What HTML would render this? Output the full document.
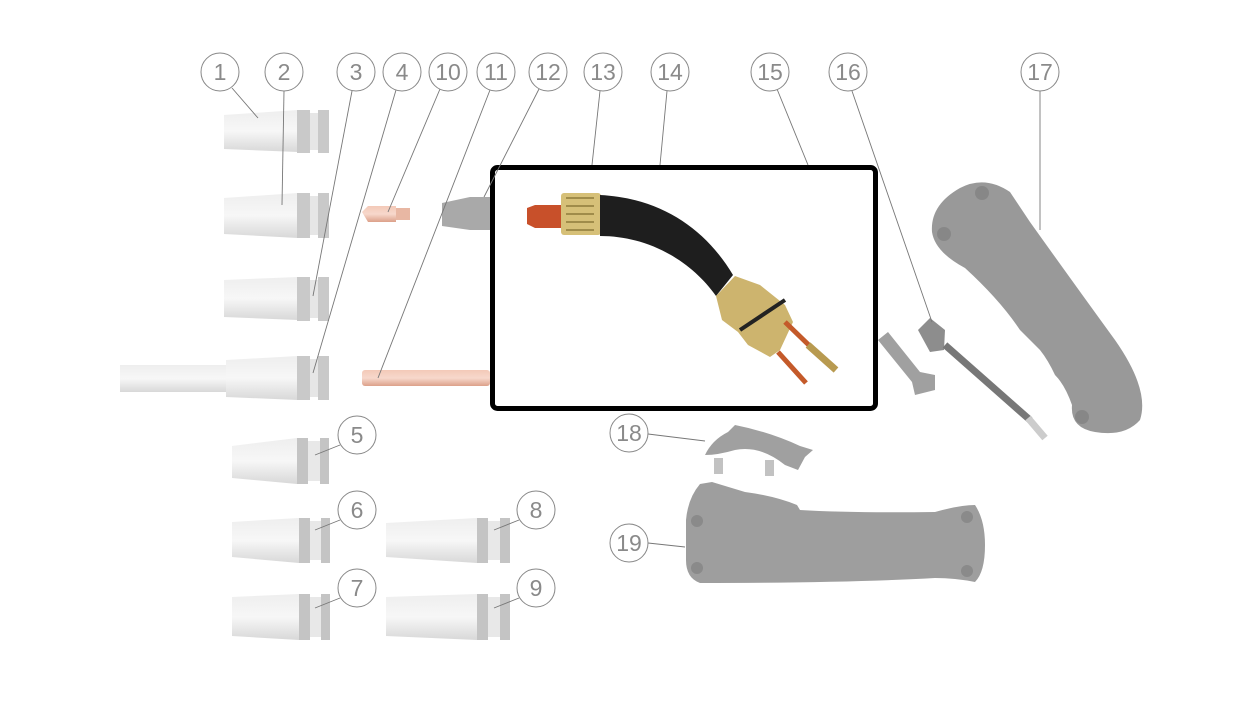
<!DOCTYPE html>
<html><head><meta charset="utf-8"><style>
html,body{margin:0;padding:0;background:#fff;}
svg{display:block;}
text{font-family:"Liberation Sans",sans-serif;font-size:23px;fill:#8a8a8a;text-anchor:middle;}
</style></head><body>
<svg width="1233" height="710" viewBox="0 0 1233 710" xmlns="http://www.w3.org/2000/svg">
<defs>
<linearGradient id="noz" x1="0" y1="0" x2="0" y2="1">
<stop offset="0" stop-color="#eeeeee"/><stop offset="0.5" stop-color="#f7f7f7"/><stop offset="1" stop-color="#d8d8d8"/></linearGradient>
<linearGradient id="cop" x1="0" y1="0" x2="0" y2="1">
<stop offset="0" stop-color="#f3c9b8"/><stop offset="0.5" stop-color="#f7d8cc"/><stop offset="1" stop-color="#dca08a"/></linearGradient>
</defs>
<g id="nozzles">
<path d="M224 115 L298 110 L298 152 L224 149 Z" fill="url(#noz)"/>
<rect x="297" y="110" width="13" height="43" fill="#c9c9c9"/><rect x="310" y="113" width="8" height="37" fill="#e6e6e6"/><rect x="318" y="110" width="11" height="43" fill="#c9c9c9"/>
<path d="M224 198 L298 193 L298 238 L224 234 Z" fill="url(#noz)"/>
<rect x="297" y="193" width="13" height="45" fill="#c9c9c9"/><rect x="310" y="196" width="8" height="39" fill="#e6e6e6"/><rect x="318" y="193" width="11" height="45" fill="#c9c9c9"/>
<path d="M224 280 L298 277 L298 320 L224 317 Z" fill="url(#noz)"/>
<rect x="297" y="277" width="13" height="44" fill="#c9c9c9"/><rect x="310" y="280" width="8" height="38" fill="#e6e6e6"/><rect x="318" y="277" width="11" height="44" fill="#c9c9c9"/>
<rect x="120" y="365" width="108" height="27" fill="url(#noz)"/>
<path d="M226 360 L298 356 L298 400 L226 397 Z" fill="url(#noz)"/>
<rect x="297" y="356" width="13" height="44" fill="#c9c9c9"/><rect x="310" y="359" width="8" height="38" fill="#e6e6e6"/><rect x="318" y="356" width="11" height="44" fill="#c9c9c9"/>
<path d="M232 446 L297 438 L297 484 L232 478 Z" fill="url(#noz)"/>
<rect x="297" y="438" width="11" height="46" fill="#c4c4c4"/><rect x="308" y="441" width="12" height="40" fill="#e8e8e8"/><rect x="320" y="438" width="9" height="46" fill="#c4c4c4"/>
<path d="M232 522 L299 518 L299 563 L232 557 Z" fill="url(#noz)"/>
<rect x="299" y="518" width="11" height="45" fill="#c4c4c4"/><rect x="310" y="521" width="11" height="39" fill="#e8e8e8"/><rect x="321" y="518" width="9" height="45" fill="#c4c4c4"/>
<path d="M232 597 L299 594 L299 640 L232 636 Z" fill="url(#noz)"/>
<rect x="299" y="594" width="11" height="46" fill="#c4c4c4"/><rect x="310" y="597" width="11" height="40" fill="#e8e8e8"/><rect x="321" y="594" width="9" height="46" fill="#c4c4c4"/>
<path d="M386 523 L477 518 L477 563 L386 557 Z" fill="url(#noz)"/>
<rect x="477" y="518" width="11" height="45" fill="#c4c4c4"/><rect x="488" y="521" width="12" height="39" fill="#e8e8e8"/><rect x="500" y="518" width="10" height="45" fill="#c4c4c4"/>
<path d="M386 597 L477 594 L477 640 L386 636 Z" fill="url(#noz)"/>
<rect x="477" y="594" width="11" height="46" fill="#c4c4c4"/><rect x="488" y="597" width="12" height="40" fill="#e8e8e8"/><rect x="500" y="594" width="10" height="46" fill="#c4c4c4"/>
</g>
<path d="M362 212 L368 206 L396 206 L396 222 L368 222 Z" fill="url(#cop)"/>
<rect x="396" y="208" width="14" height="12" fill="#e8b7a3"/>
<rect x="362" y="370" width="128" height="16" rx="3" fill="url(#cop)"/>
<path d="M442 203 L470 197 L490 197 L490 230 L470 230 L442 226 Z" fill="#a9a9a9"/>
<path d="M932 232 Q930 205 960 188 Q985 175 1010 192 L1030 222 Q1075 285 1115 340 Q1150 390 1140 420 Q1125 437 1095 432 Q1070 428 1072 405 Q1065 385 1055 375 Q1048 360 1040 350 Q1030 340 1020 330 Q1000 300 965 268 Q935 252 932 232 Z" fill="#999"/>
<circle cx="944" cy="234" r="7" fill="#878787"/><circle cx="982" cy="193" r="7" fill="#878787"/><circle cx="1082" cy="417" r="7" fill="#878787"/>
<path d="M878 340 L888 332 L920 372 L935 375 L935 390 L915 395 L912 382 Z" fill="#a0a0a0"/>
<path d="M918 330 L930 318 L945 330 L944 350 L930 352 Z" fill="#8d8d8d"/>
<path d="M945 345 L1030 420" stroke="#777" stroke-width="7"/>
<path d="M1028 418 L1045 438" stroke="#ccc" stroke-width="7"/>
<path d="M705 455 Q712 440 728 432 L735 425 Q770 432 800 446 L813 450 L805 457 L798 470 L785 465 Q760 445 735 450 Q718 455 705 455 Z" fill="#a0a0a0"/>
<rect x="714" y="458" width="9" height="16" fill="#c2c2c2"/>
<rect x="765" y="460" width="9" height="16" fill="#c2c2c2"/>
<path d="M686 520 Q688 498 700 484 L712 482 L745 492 Q775 496 797 505 L800 510 Q850 513 935 512 Q960 505 975 505 Q985 520 985 545 Q985 572 975 582 Q955 578 935 578 Q850 583 700 583 Q686 578 686 560 Z" fill="#9e9e9e"/>
<circle cx="697" cy="521" r="6" fill="#8a8a8a"/><circle cx="697" cy="568" r="6" fill="#8a8a8a"/><circle cx="967" cy="517" r="6" fill="#8a8a8a"/><circle cx="967" cy="571" r="6" fill="#8a8a8a"/>
<rect x="492.5" y="167.5" width="383" height="241" rx="5" fill="#fff" stroke="#000" stroke-width="5"/>
<path d="M527 208 L535 205 L562 205 L562 228 L535 228 L527 224 Z" fill="#c8502a"/>
<rect x="561" y="193" width="40" height="42" rx="3" fill="#d6c078"/>
<path d="M566 198 L594 198 M566 206 L594 206 M566 214 L594 214 M566 222 L594 222 M566 230 L594 230" stroke="#8d7a3a" stroke-width="1.5"/>
<path d="M600 195 C660 198 705 228 733 275 L716 296 C692 262 650 236 600 236 Z" fill="#1e1e1e"/>
<path d="M716 296 L735 276 L760 285 L785 305 L793 322 L780 350 L770 357 L748 345 L738 332 L722 320 Z" fill="#cdb46e"/>
<path d="M740 330 L785 300" stroke="#222" stroke-width="4"/>
<path d="M785 322 L816 352" stroke="#c45a2a" stroke-width="5"/>
<path d="M778 352 L806 383" stroke="#c45a2a" stroke-width="5"/>
<path d="M808 345 L836 370" stroke="#b89a50" stroke-width="7"/>
<g stroke="#777" stroke-width="0.9" fill="none">
<line x1="232" y1="88" x2="258" y2="118"/>
<line x1="284" y1="91" x2="282" y2="205"/>
<line x1="352" y1="91" x2="313" y2="296"/>
<line x1="396" y1="90" x2="313" y2="373"/>
<line x1="440" y1="89" x2="388" y2="212"/>
<line x1="490" y1="90" x2="378" y2="378"/>
<line x1="539" y1="89" x2="484" y2="197"/>
<line x1="600" y1="91" x2="592" y2="165"/>
<line x1="667" y1="91" x2="660" y2="165"/>
<line x1="777" y1="89" x2="808" y2="165"/>
<line x1="852" y1="91" x2="932" y2="322"/>
<line x1="1040" y1="91" x2="1040" y2="230"/>
<line x1="648" y1="434" x2="705" y2="441"/>
<line x1="648" y1="543" x2="685" y2="547"/>
<line x1="340" y1="445" x2="315" y2="455"/>
<line x1="340" y1="520" x2="315" y2="530"/>
<line x1="340" y1="598" x2="315" y2="608"/>
<line x1="519" y1="520" x2="494" y2="530"/>
<line x1="519" y1="598" x2="494" y2="608"/>
</g>
<g fill="#fff" stroke="#888" stroke-width="1">
<circle cx="220" cy="72" r="19"/><circle cx="284" cy="72" r="19"/><circle cx="356" cy="72" r="19"/><circle cx="402" cy="72" r="19"/><circle cx="448" cy="72" r="19"/><circle cx="496" cy="72" r="19"/><circle cx="548" cy="72" r="19"/><circle cx="603" cy="72" r="19"/><circle cx="670" cy="72" r="19"/><circle cx="770" cy="72" r="19"/><circle cx="848" cy="72" r="19"/><circle cx="1040" cy="72" r="19"/>
<circle cx="629" cy="433" r="19"/><circle cx="629" cy="543" r="19"/><circle cx="357" cy="435" r="19"/><circle cx="357" cy="510" r="19"/><circle cx="357" cy="588" r="19"/><circle cx="536" cy="510" r="19"/><circle cx="536" cy="588" r="19"/>
</g>
<g>
<text x="220" y="80">1</text><text x="284" y="80">2</text><text x="356" y="80">3</text><text x="402" y="80">4</text><text x="448" y="80">10</text><text x="496" y="80">11</text><text x="548" y="80">12</text><text x="603" y="80">13</text><text x="670" y="80">14</text><text x="770" y="80">15</text><text x="848" y="80">16</text><text x="1040" y="80">17</text>
<text x="629" y="441">18</text><text x="629" y="551">19</text><text x="357" y="443">5</text><text x="357" y="518">6</text><text x="357" y="596">7</text><text x="536" y="518">8</text><text x="536" y="596">9</text>
</g>
</svg>
</body></html>
